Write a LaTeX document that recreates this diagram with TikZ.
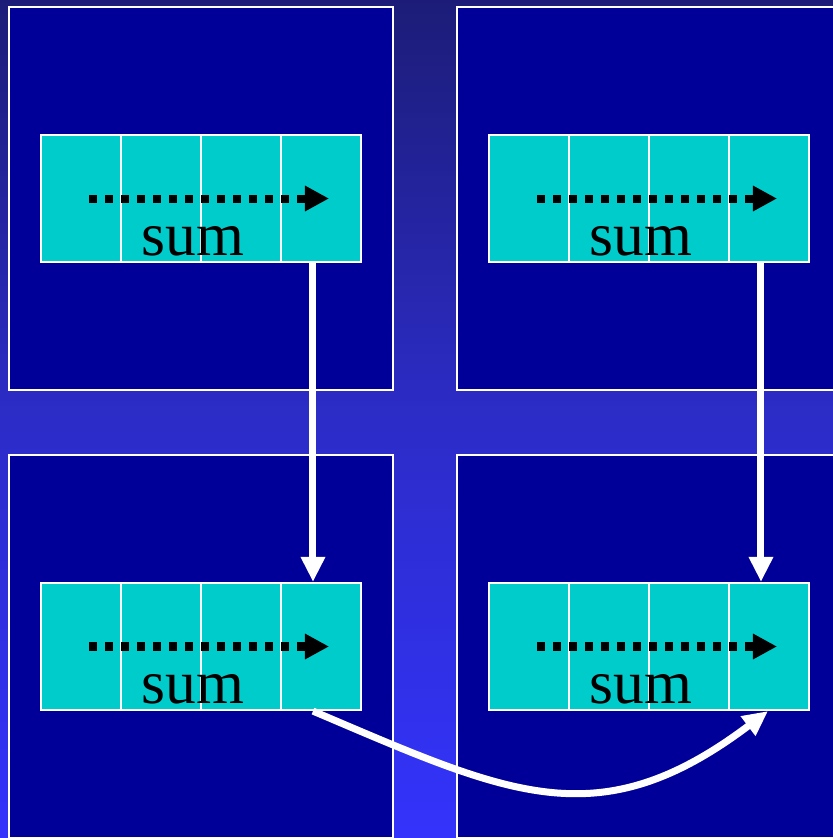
\documentclass[tikz,border=0pt]{standalone}
\usepackage{fontspec}
\setmainfont{Liberation Serif}
\usetikzlibrary{arrows.meta}
\definecolor{bgtop}{RGB}{28,28,120}
\definecolor{bgmid}{RGB}{44,44,200}
\definecolor{bgbottom}{RGB}{51,51,252}
\definecolor{procblue}{RGB}{0,0,153}
\definecolor{cellcyan}{RGB}{0,204,204}
\tikzstyle{processor}=[draw=white, fill=procblue, line width=0.6pt, minimum width=3.84cm, minimum height=3.83cm, inner sep=0]
\tikzstyle{cell}=[draw=white, fill=cellcyan, line width=0.6pt, minimum width=0.8cm, minimum height=1.27cm, inner sep=0]
\tikzstyle{scan}=[line width=0.08cm, dash pattern=on 0.075cm off 0.085cm, -{Triangle[length=0.24cm, width=0.24cm]}]
\tikzstyle{sumtext}=[font=\fontsize{17.5}{20}\selectfont, anchor=base, inner sep=0]
\tikzstyle{message}=[white, line width=0.07cm, -{Triangle[length=0.25cm, width=0.23cm]}]

\begin{document}
\begin{tikzpicture}[x=0.01cm, y=0.01cm]
  \useasboundingbox (0,0) rectangle (833,838);
  \shade[top color=bgtop, bottom color=bgbottom, middle color=bgmid] (0,0) rectangle (833,838);

  % one processor per quadrant, each with a local array of four cells
  \foreach \p/\cx/\cy in {tl/201/639.5, tr/649/639.5, bl/201/191.5, br/649/191.5} {
    \node[processor] (proc_\p) at (\cx,\cy) {};
    \foreach \i in {1,...,4}
      \node[cell] (\p_\i) at (\cx+80*\i-200, \cy) {};
    \draw[scan] ([xshift=0.08cm]\p_1.center) -- ([xshift=0.08cm]\p_4.center);
    \node[sumtext] (\p_sum) at ([xshift=-0.08cm, yshift=-0.57cm]proc_\p.center) {sum};
  }

  % partial sums passed on
  \draw[message] ([xshift=-0.08cm]tl_4.south) -- ([xshift=-0.08cm]bl_4.north);
  \draw[message] ([xshift=-0.08cm]tr_4.south) -- ([xshift=-0.08cm]br_4.north);
  \draw[message] ([xshift=-0.08cm]bl_4.south)
    to[out=-23, in=-143, looseness=1.2] ([xshift=-0.01cm]br_4.south);
\end{tikzpicture}
\end{document}
